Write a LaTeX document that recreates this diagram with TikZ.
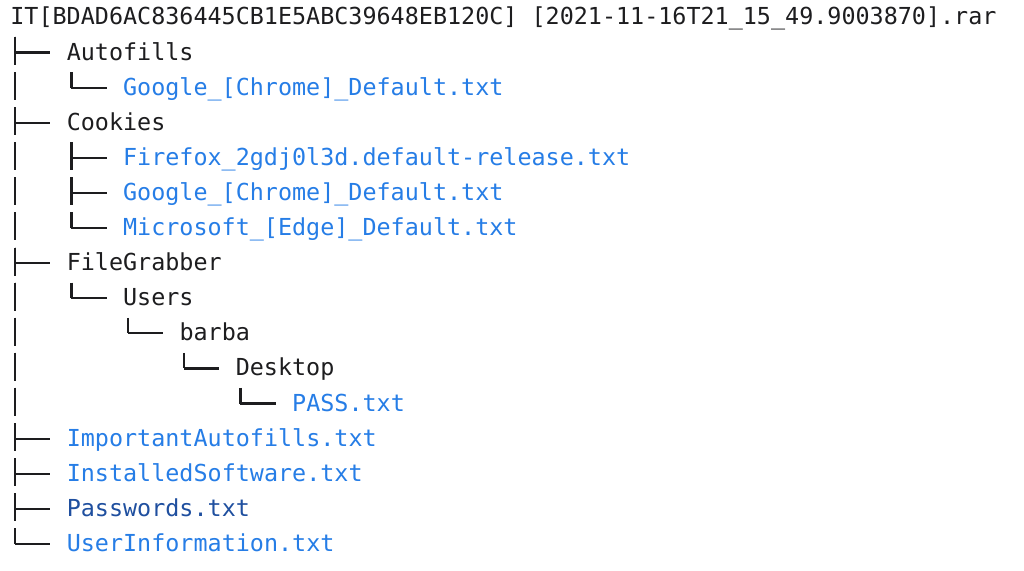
\documentclass[tikz,border=0pt]{standalone}
\usepackage{fontspec}
\setmonofont{DejaVu Sans Mono}
\usepackage{tikz}
\usetikzlibrary{calc}
\usepackage{xcolor}
\definecolor{fileblue}{HTML}{267DE6}
\definecolor{darkfile}{HTML}{1F4F9F}
\definecolor{ink}{HTML}{1D1D1F}

\begin{document}
\begin{tikzpicture}[x=0.5pt, y=-0.5pt,
		entry/.style={anchor=base west, inner sep=0pt, text=ink, font=\ttfamily\fontsize{11.7}{14}\selectfont},
		file/.style={entry, text=fileblue},
		vbar/.style={draw=ink, line width=1.1pt, dash pattern=on 14pt off 3.55pt},
		hbar/.style={draw=ink, line width=1.1pt}]
			\useasboundingbox (0,0) rectangle (1024,571);
			\node[entry] (root) at (10, 25) {IT[BDAD6AC836445CB1E5ABC39648EB120C] [2021-11-16T21\_15\_49.9003870].rar};
			\node[entry] (autofills) at (66.4, 60.1) {Autofills};
			\node[file] (afchrome) at (122.7, 95.2) {Google\_[Chrome]\_Default.txt};
			\node[entry] (cookies) at (66.4, 130.3) {Cookies};
			\node[file] (ckfirefox) at (122.7, 165.4) {Firefox\_2gdj0l3d.default-release.txt};
			\node[file] (ckchrome) at (122.7, 200.5) {Google\_[Chrome]\_Default.txt};
			\node[file] (ckedge) at (122.7, 235.6) {Microsoft\_[Edge]\_Default.txt};
			\node[entry] (grabber) at (66.4, 270.7) {FileGrabber};
			\node[entry] (users) at (122.7, 305.8) {Users};
			\node[entry] (barba) at (179.1, 340.9) {barba};
			\node[entry] (desktop) at (235.4, 376) {Desktop};
			\node[file] (pass) at (291.8, 411.1) {PASS.txt};
			\node[file] (important) at (66.4, 446.2) {ImportantAutofills.txt};
			\node[file] (installed) at (66.4, 481.3) {InstalledSoftware.txt};
			\node[file, text=darkfile] (passwords) at (66.4, 516.4) {Passwords.txt};
			\node[file] (userinfo) at (66.4, 551.5) {UserInformation.txt};
			% branches
			\foreach \p/\c in {root/autofills, autofills/afchrome, root/cookies, cookies/ckfirefox, cookies/ckchrome, cookies/ckedge,
				root/grabber, grabber/users, users/barba, barba/desktop, desktop/pass,
				root/important, root/installed, root/passwords, root/userinfo} {
				\path ($(\p.base west)+(5,12)$) coordinate (top) ($(\c.base west)+(-16,-7.5)$) coordinate (tip);
				\draw[vbar] (top) -- (top |- tip);
				\draw[hbar] (top |- tip) -- (tip);
			}
\end{tikzpicture}
\end{document}
